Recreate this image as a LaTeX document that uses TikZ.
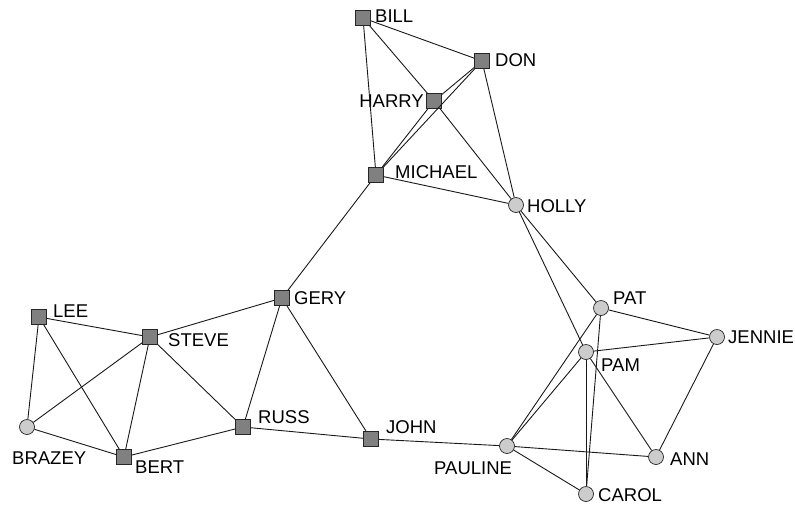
\documentclass[tikz,border=0pt]{standalone}
\usepackage{fontspec}
\setmainfont{Liberation Sans}
\begin{document}
\begin{tikzpicture}[x=1pt,y=-1pt,
  sq/.style={draw=black!85, fill=black!50, minimum size=15pt, inner sep=0pt, line width=0.7pt},
  ci/.style={circle, draw=black!85, fill=black!20, minimum size=15pt, inner sep=0pt, line width=0.7pt},
  lab/.style={font=\fontsize{18.5}{20}\selectfont, inner sep=0pt, text depth=0pt},
  edge/.style={line width=0.9pt, black!90}]
\useasboundingbox (0,0) rectangle (795,507);
% nodes
\node[sq] (bill) at (363,18) {};
\node[sq] (don) at (482,61) {};
\node[sq] (harry) at (434,101) {};
\node[sq] (michael) at (376,175) {};
\node[ci] (holly) at (516,205) {};
\node[sq] (gery) at (282,298) {};
\node[sq] (lee) at (39,317) {};
\node[sq] (steve) at (150,337) {};
\node[ci] (brazey) at (27,427) {};
\node[sq] (bert) at (124,457) {};
\node[sq] (russ) at (243,427) {};
\node[sq] (john) at (371,439) {};
\node[ci] (pat) at (601,308) {};
\node[ci] (jennie) at (717,337) {};
\node[ci] (pam) at (586,352) {};
\node[ci] (pauline) at (507,446) {};
\node[ci] (ann) at (656,457) {};
\node[ci] (carol) at (586,494) {};
% labels
\node[lab, anchor=west] (lbill) at (375,16) {BILL};
\node[lab, anchor=west] (ldon) at (495,60) {DON};
\node[lab, anchor=east] (lharry) at (424,101) {HARRY};
\node[lab, anchor=west] (lmichael) at (395,172) {MICHAEL};
\node[lab, anchor=west] (lholly) at (527,206) {HOLLY};
\node[lab, anchor=west] (lgery) at (294,298) {GERY};
\node[lab, anchor=west] (llee) at (53,311) {LEE};
\node[lab, anchor=west] (lsteve) at (168,340) {STEVE};
\node[lab, anchor=west] (lbrazey) at (12,458) {BRAZEY};
\node[lab, anchor=west] (lbert) at (135,467) {BERT};
\node[lab, anchor=west] (lruss) at (258,417) {RUSS};
\node[lab, anchor=west] (ljohn) at (386,427) {JOHN};
\node[lab, anchor=west] (lpauline) at (434,468) {PAULINE};
\node[lab, anchor=west] (lpat) at (613,298) {PAT};
\node[lab, anchor=west] (ljennie) at (728,337) {JENNIE};
\node[lab, anchor=west] (lpam) at (601,365) {PAM};
\node[lab, anchor=west] (lann) at (670,459) {ANN};
\node[lab, anchor=west] (lcarol) at (598,495) {CAROL};
% edges
\draw[edge] (bill) -- (don);
\draw[edge] (bill) -- (harry);
\draw[edge] (bill) -- (michael);
\draw[edge] (don) -- (harry);
\draw[edge] (don) -- (michael);
\draw[edge] (don) -- (holly);
\draw[edge] (harry) -- (michael);
\draw[edge] (harry) -- (holly);
\draw[edge] (michael) -- (holly);
\draw[edge] (michael) -- (gery);
\draw[edge] (holly) -- (pat);
\draw[edge] (holly) -- (pam);
\draw[edge] (gery) -- (steve);
\draw[edge] (gery) -- (russ);
\draw[edge] (gery) -- (john);
\draw[edge] (lee) -- (steve);
\draw[edge] (lee) -- (brazey);
\draw[edge] (lee) -- (bert);
\draw[edge] (steve) -- (brazey);
\draw[edge] (steve) -- (bert);
\draw[edge] (steve) -- (russ);
\draw[edge] (brazey) -- (bert);
\draw[edge] (bert) -- (russ);
\draw[edge] (russ) -- (john);
\draw[edge] (john) -- (pauline);
\draw[edge] (pat) -- (jennie);
\draw[edge] (pat) -- (pauline);
\draw[edge] (pat) -- (carol);
\draw[edge] (pam) -- (jennie);
\draw[edge] (pam) -- (pauline);
\draw[edge] (pam) -- (carol);
\draw[edge] (pam) -- (ann);
\draw[edge] (jennie) -- (ann);
\draw[edge] (pauline) -- (ann);
\draw[edge] (pauline) -- (carol);
\end{tikzpicture}
\end{document}
